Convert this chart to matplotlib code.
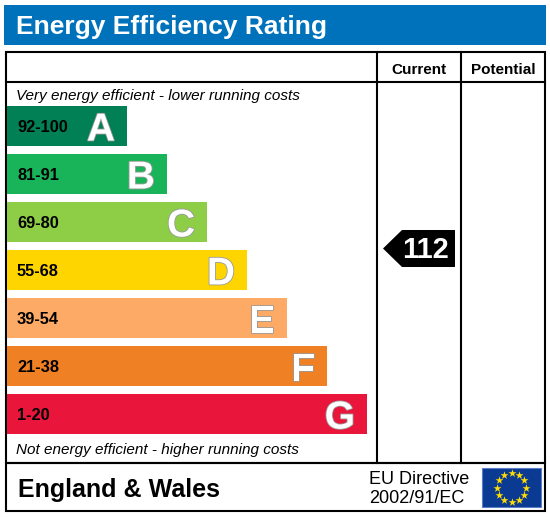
import numpy as np
import matplotlib
matplotlib.use('Agg')
import matplotlib.pyplot as plt
from matplotlib.patches import Rectangle, Polygon
import matplotlib.patheffects as pe

plt.rcParams['font.family'] = ['Liberation Sans', 'DejaVu Sans']

# bands, top (most efficient) first
bands = ['A', 'B', 'C', 'D', 'E', 'F', 'G']
ranges = ['92-100', '81-91', '69-80', '55-68', '39-54', '21-38', '1-20']
colours = ['#008054', '#19b459', '#8dce46', '#ffd500', '#fcaa65', '#ef8023', '#e9153b']
current = 112
potential = None

title = 'Energy Efficiency Rating'
top_note = 'Very energy efficient - lower running costs'
bottom_note = 'Not energy efficient - higher running costs'
region = 'England & Wales'
directive = ['EU Directive', '2002/91/EC']

W, H = 550, 517
fig = plt.figure(figsize=(W / 100, H / 100), dpi=100)
ax = fig.add_axes([0, 0, 1, 1])
ax.set_xlim(0, W)
ax.set_ylim(H, 0)
ax.axis('off')

# header strip
ax.add_patch(Rectangle((4, 5), 542, 40, color='#0072bb', lw=0))
ax.text(16, 34, title, color='white', fontsize=19, fontweight='bold', va='baseline')

# frame
lw = 1.5
ax.add_patch(Rectangle((6, 52), 539, 411, fill=False, ec='black', lw=lw))
ax.add_patch(Rectangle((6, 463), 539, 48, fill=False, ec='black', lw=lw))
ax.plot([6, 545], [82, 82], color='black', lw=lw)
ax.plot([377, 377], [52, 463], color='black', lw=lw)
ax.plot([461, 461], [52, 463], color='black', lw=lw)

ax.text(419, 74, 'Current', fontsize=11, fontweight='bold', ha='center', va='baseline')
ax.text(503, 74, 'Potential', fontsize=11, fontweight='bold', ha='center', va='baseline')

ax.text(16, 100, top_note, fontsize=11, style='italic', va='baseline')
ax.text(16, 454, bottom_note, fontsize=11, style='italic', va='baseline')

# rating bars
centres = 126 + 48 * np.arange(len(bands))
lengths = 120 + 40 * np.arange(len(bands))
ax.barh(centres, lengths, left=7, height=40, color=colours, lw=0)
for c, L, b, r in zip(centres, lengths, bands, ranges):
    ax.text(17, c + 5.5, r, fontsize=11.8, fontweight='bold', va='baseline')
    ax.text(7 + L - 12, c + 14.5, b, fontsize=28, fontweight='bold', color='white',
            ha='right', va='baseline',
            path_effects=[pe.withStroke(linewidth=1.2, foreground='#9a9a9a')])


def rating_arrow(x0, x1, yc, value):
    h = 37
    pts = [(x0, yc), (x0 + 19, yc - h / 2), (x1, yc - h / 2), (x1, yc + h / 2), (x0 + 19, yc + h / 2)]
    ax.add_patch(Polygon(pts, closed=True, color='black', lw=0))
    ax.text(425, yc + 9.8, str(value), color='white', fontsize=21,
            fontweight='bold', ha='center', va='baseline')


if current is not None:
    rating_arrow(383, 455, 248.5, current)
if potential is not None:
    rating_arrow(467, 539, 248.5, potential)

# footer
ax.text(18, 497, region, fontsize=18, fontweight='bold', va='baseline')
ax.text(369, 484, directive[0], fontsize=13, va='baseline')
ax.text(369, 503, directive[1], fontsize=13, va='baseline')

ax.add_patch(Rectangle((482, 468), 59, 39, fc='#0b3a93', ec='#5a7fc4', lw=0.8))
ang = np.arange(12) * np.pi / 6
ax.scatter(511.5 + 14.5 * np.cos(ang), 487.5 + 14.5 * np.sin(ang), marker='*', s=36,
           color='#ffdd00', lw=0, zorder=5)

fig.savefig('out.png', dpi=100)
